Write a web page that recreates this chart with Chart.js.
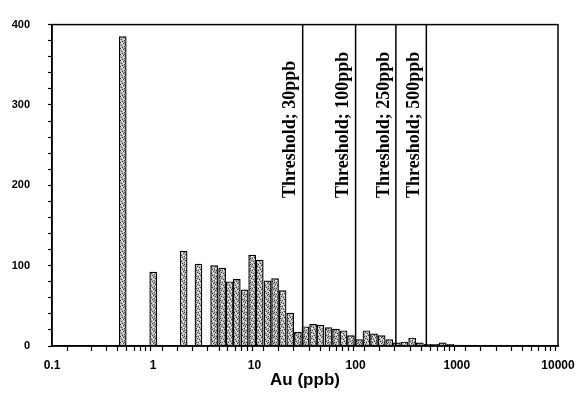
<!DOCTYPE html>
<html>
<head>
<meta charset="utf-8">
<script src="https://cdn.jsdelivr.net/npm/chart.js@4.4.1/dist/chart.umd.min.js"></script>
<style>
  html, body { margin: 0; padding: 0; background: #fff; }
  #wrap { width: 582px; height: 400px; }
</style>
</head>
<body>
<div id="wrap"><canvas id="auChart"></canvas></div>
<script>
// bin centres (ppb) and counts
const auBins = [0.5, 1, 2, 2.8, 4, 4.8, 5.7, 6.7, 8, 9.5, 11.3, 13.5, 16, 19, 22.6, 26.9,
  32, 38, 45, 54, 64, 76, 90, 108, 128, 152, 181, 215, 256, 304, 362, 431, 512, 609, 724, 861, 1024];
const auCounts = [385, 92, 118, 102, 100, 97, 80, 83, 70, 113, 107, 81, 84, 69, 41, 17,
  24, 27, 26, 23, 21, 19, 13, 8, 19, 15, 13, 8, 4, 5, 10, 4, 2, 2, 4, 2, 1];
const thresholds = [30, 100, 250, 500];
const thresholdLabels = ['Threshold; 30ppb', 'Threshold; 100ppb', 'Threshold; 250ppb', 'Threshold; 500ppb'];
const xDecades = ['0.1', '1', '10', '100', '1000', '10000'];

const ctx = document.getElementById('auChart').getContext('2d');

// grey stipple like the scanned bars
function stipple(g) {
  var c = document.createElement('canvas');
  c.width = 6; c.height = 6;
  var p = c.getContext('2d');
  p.fillStyle = '#b8b8b8';
  p.fillRect(0, 0, 6, 6);
  p.fillStyle = '#404040';
  [[0, 0], [3, 1], [1, 3], [4, 4], [2, 5], [5, 2], [4, 0]].forEach(function (d) { p.fillRect(d[0], d[1], 1, 1); });
  p.fillStyle = '#ffffff';
  [[2, 1], [5, 4], [0, 4], [3, 3], [1, 0]].forEach(function (d) { p.fillRect(d[0], d[1], 1, 1); });
  return g.createPattern(c, 'repeat');
}

const frame = {
  id: 'frame',
  afterDraw(chart) {
    const a = chart.chartArea, g = chart.ctx;
    g.save();
    g.strokeStyle = '#000';
    g.lineWidth = 1.5;
    g.strokeRect(a.left, a.top, a.right - a.left, a.bottom - a.top);
    g.restore();
  }
};

const thresholdText = {
  id: 'thresholdText',
  afterDatasetsDraw(chart) {
    const xs = chart.scales.x, g = chart.ctx;
    g.save();
    g.fillStyle = '#000';
    g.font = 'bold 18px "Liberation Serif", "Times New Roman", serif';
    g.textAlign = 'left';
    g.textBaseline = 'middle';
    thresholds.forEach(function (t, i) {
      const px = xs.getPixelForValue(t) - 12;
      g.save();
      g.translate(px, 198);
      g.rotate(-Math.PI / 2);
      g.fillText(thresholdLabels[i], 0, 0);
      g.restore();
    });
    g.restore();
  }
};

const lineSets = thresholds.map(function (t) {
  return {
    type: 'line',
    data: [{ x: t, y: 0 }, { x: t, y: 400 }],
    borderColor: '#000',
    borderWidth: 1.5,
    pointRadius: 0,
    fill: false,
    order: 0
  };
});

new Chart(ctx, {
  type: 'bar',
  data: {
    datasets: [{
      label: 'Au',
      data: auBins.map(function (b, i) { return { x: b, y: auCounts[i] }; }),
      backgroundColor: stipple(ctx),
      borderColor: '#000',
      borderWidth: 1.2,
      barThickness: 7,
      order: 1
    }].concat(lineSets)
  },
  options: {
    responsive: true,
    maintainAspectRatio: false,
    animation: false,
    layout: { padding: { top: 14, right: 24, left: 0, bottom: 0 } },
    plugins: { legend: { display: false }, tooltip: { enabled: false } },
    scales: {
      x: {
        type: 'logarithmic',
        min: 0.1,
        max: 10000,
        afterFit(s) { s.height = 54; },
        border: { display: true, color: '#000', width: 1.5 },
        grid: { drawOnChartArea: false, tickLength: 5, tickColor: '#000', tickWidth: 1.2 },
        ticks: {
          autoSkip: false,
          maxRotation: 0,
          padding: 7,
          color: '#000',
          font: { family: '"Liberation Sans", Arial, sans-serif', size: 12, weight: 'bold' },
          callback(v) {
            const l = Math.log10(v);
            if (Math.abs(l - Math.round(l)) < 1e-9) return xDecades[Math.round(l) + 1];
            return '';
          }
        },
        title: {
          display: true,
          text: 'Au (ppb)',
          color: '#000',
          font: { family: '"Liberation Sans", Arial, sans-serif', size: 17, weight: 'bold' },
          padding: { top: 0, bottom: 9 }
        }
      },
      y: {
        min: 0,
        max: 400,
        afterFit(s) { s.width = 52; },
        border: { display: true, color: '#000', width: 1.5 },
        grid: { drawOnChartArea: false, tickLength: 4, tickColor: '#000', tickWidth: 1.2 },
        ticks: {
          stepSize: 20,
          autoSkip: false,
          padding: 18,
          color: '#000',
          font: { family: '"Liberation Sans", Arial, sans-serif', size: 11, weight: 'bold' },
          callback(v) { return v % 100 === 0 ? String(v) : ''; }
        }
      }
    }
  },
  plugins: [frame, thresholdText]
});
</script>
</body>
</html>
